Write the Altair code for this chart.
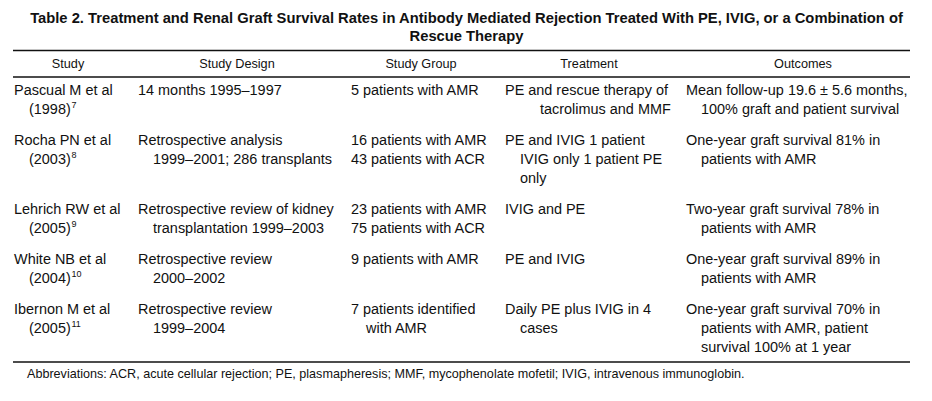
import altair as alt
import pandas as pd

# ---------------- content ----------------
title_lines = [
    "Table 2.  Treatment and Renal Graft Survival Rates in Antibody Mediated Rejection Treated With PE, IVIG, or a Combination of",
    "Rescue Therapy",
]
headers = ["Study", "Study Design", "Study Group", "Treatment", "Outcomes"]
study_names = ["Pascual M et al", "Rocha PN et al", "Lehrich RW et al", "White NB et al", "Ibernon M et al"]
study_years = ["(1998)", "(2003)", "(2005)", "(2004)", "(2005)"]
study_refs = ["7", "8", "9", "10", "11"]
designs = [
    ["14 months 1995–1997"],
    ["Retrospective analysis", "1999–2001; 286 transplants"],
    ["Retrospective review of kidney", "transplantation 1999–2003"],
    ["Retrospective review", "2000–2002"],
    ["Retrospective review", "1999–2004"],
]
groups = [
    ["5 patients with AMR"],
    ["16 patients with AMR", "43 patients with ACR"],
    ["23 patients with AMR", "75 patients with ACR"],
    ["9 patients with AMR"],
    ["7 patients identified", "with AMR"],
]
treatments = [
    ["PE and rescue therapy of", "tacrolimus and MMF"],
    ["PE and IVIG 1 patient", "IVIG only 1 patient PE", "only"],
    ["IVIG and PE"],
    ["PE and IVIG"],
    ["Daily PE plus IVIG in 4", "cases"],
]
outcomes = [
    ["Mean follow-up 19.6 ± 5.6 months,", "100% graft and patient survival"],
    ["One-year graft survival 81% in", "patients with AMR"],
    ["Two-year graft survival 78% in", "patients with AMR"],
    ["One-year graft survival 89% in", "patients with AMR"],
    ["One-year graft survival 70% in", "patients with AMR, patient", "survival 100% at 1 year"],
]
footnote = ("Abbreviations: ACR, acute cellular rejection; PE, plasmapheresis; MMF, "
            "mycophenolate mofetil; IVIG, intravenous immunoglobin.")

# ---------------- layout (page pixel units) ----------------
W, H = 916, 385
COL_LEFT = [14, 138, 351, 505, 686]
HEAD_CENTER = [68, 237, 421, 589, 803]
INDENT = 15
PITCH = 19
ROW_GAP = 12
FIRST_BASE = 95
HEAD_BASE = 68
TITLE_BASE = [23, 41]
RULE_Y = [50.5, 77, 362]
RULE_X = (13, 910)
FOOT_BASE = 378
FOOT_X = 27
SUP_DX = 42.5
SUP_RISE = 6
# per-line indent overrides: (row, col, line) -> indent
INDENT_OVERRIDE = {(1, 2, 1): 0, (2, 2, 1): 0, (0, 3, 1): 35}

FONT = "Liberation Sans"
BODY_SIZE = 14.45
HEAD_SIZE = 12.7
TITLE_SIZE = 14.75
FOOT_SIZE = 12.6
SUP_SIZE = 9
INK = "#111111"

xs = alt.Scale(domain=[8, 8 + W])
ys = alt.Scale(domain=[8, 8 + H], reverse=True)

# ---------------- build tables ----------------
body_rows = []
sup_rows = []
base = FIRST_BASE
for r in range(len(study_names)):
    cells = [[study_names[r], study_years[r]], designs[r], groups[r], treatments[r], outcomes[r]]
    nlines = max(len(c) for c in cells)
    for c, lines in enumerate(cells):
        for i, t in enumerate(lines):
            ind = INDENT if i > 0 else 0
            ind = INDENT_OVERRIDE.get((r, c, i), ind)
            body_rows.append({"text": t, "x": COL_LEFT[c] + ind, "y": base + i * PITCH})
    sup_rows.append({"text": study_refs[r], "x": COL_LEFT[0] + INDENT + SUP_DX,
                     "y": base + PITCH - SUP_RISE})
    base += nlines * PITCH + ROW_GAP

body_df = pd.DataFrame(body_rows)
sup_df = pd.DataFrame(sup_rows)
head_df = pd.DataFrame({"text": headers, "x": HEAD_CENTER, "y": [HEAD_BASE] * len(headers)})
title_df = pd.DataFrame({"text": title_lines, "x": [8 + W / 2 + 0.5] * 2, "y": TITLE_BASE})
foot_df = pd.DataFrame({"text": [footnote], "x": [FOOT_X], "y": [FOOT_BASE]})
rule_df = pd.DataFrame({"x0": [RULE_X[0]] * 3, "x1": [RULE_X[1]] * 3, "y": RULE_Y})


def text_layer(df, size, align="left", weight="normal"):
    return alt.Chart(df).mark_text(
        align=align, baseline="alphabetic", font=FONT, fontSize=size,
        fontWeight=weight, color=INK,
    ).encode(
        x=alt.X("x:Q", scale=xs, axis=None),
        y=alt.Y("y:Q", scale=ys, axis=None),
        text="text:N",
    )


rules = alt.Chart(rule_df).mark_rule(color=INK, strokeWidth=1.5).encode(
    x=alt.X("x0:Q", scale=xs, axis=None),
    x2="x1:Q",
    y=alt.Y("y:Q", scale=ys, axis=None),
)

chart = alt.layer(
    rules,
    text_layer(title_df, TITLE_SIZE, align="center", weight="bold"),
    text_layer(head_df, HEAD_SIZE, align="center"),
    text_layer(body_df, BODY_SIZE),
    text_layer(sup_df, SUP_SIZE),
    text_layer(foot_df, FOOT_SIZE),
).properties(
    width=W, height=H, padding=0,
    autosize=alt.AutoSizeParams(type="none"),
    background="white",
).configure_view(stroke=None)

chart.save("out.html", embed_options={"renderer": "svg", "actions": False})
